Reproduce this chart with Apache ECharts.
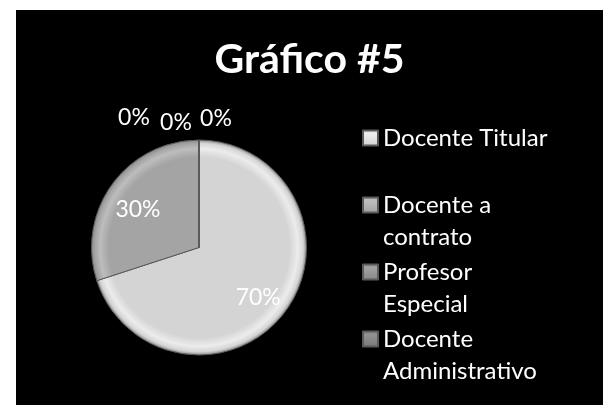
<!DOCTYPE html>
<html>
<head>
<meta charset="utf-8">
<script src="https://cdn.jsdelivr.net/npm/echarts@6/dist/echarts.min.js"></script>
<style>
  html, body { margin: 0; padding: 0; background: #fff; width: 607px; height: 405px; overflow: hidden; }
  #chart { position: absolute; left: 16px; top: 10px; width: 587px; height: 395px; }
</style>
</head>
<body>
<div id="chart"></div>
<script>
// Data
const categories = ['Docente Titular', 'Docente a contrato', 'Profesor Especial', 'Docente Administrativo', ''];
const values = [70, 30, 0, 0, 0];
const legendNames = ['Docente Titular', 'Docente a contrato', 'Profesor Especial', 'Docente Administrativo'];
const titleText = 'Gráfico #5';

// Styles
const CX = 183, CY = 237.5, R = 107.5;
const baseColors = ['#d4d4d4', '#a4a4a4', '#8a8a8a', '#7a7a7a', '#6c6c6c'];
const rimColors = ['#ececec', '#bdbdbd', '#a0a0a0', '#909090', '#808080'];
const zeroOffsets = [[-65, -129.5], [-23, -124.5], [17, -128.5]];
const insideScale = [[1.29, 1.5], [1.33, 1.13]];

function sliceGradient(i) {
  return {
    type: 'radial', x: CX, y: CY, r: R, global: true,
    colorStops: [
      { offset: 0, color: baseColors[i] },
      { offset: 0.84, color: baseColors[i] },
      { offset: 0.92, color: rimColors[i] },
      { offset: 0.97, color: baseColors[i] },
      { offset: 1, color: '#8a8a8a' }
    ]
  };
}

const chart = echarts.init(document.getElementById('chart'));
const option = {
  backgroundColor: '#000',
  animation: false,
  title: {
    text: titleText,
    left: 'center',
    top: 24,
    textStyle: { color: '#fff', fontFamily: 'Lato', fontWeight: 'bold', fontSize: 41 }
  },
  legend: {
    orient: 'vertical',
    left: 341,
    top: 106,
    padding: 5,
    itemGap: 0,
    itemWidth: 15,
    itemHeight: 65,
    icon: 'path://M0,0M15,65M0,8.5h15v15h-15z',
    data: legendNames.map(function (n) {
      const i = categories.indexOf(n);
      return {
        name: n,
        itemStyle: {
          color: {
            type: 'linear', x: 0, y: 0, x2: 0, y2: 1,
            colorStops: [
              { offset: 0, color: baseColors[i] },
              { offset: 0.2, color: rimColors[i] },
              { offset: 0.36, color: baseColors[i] },
              { offset: 1, color: baseColors[i] }
            ]
          }
        }
      };
    }),
    formatter: function (name) {
      if (name === 'Docente Titular') return name + '\n ';
      return name.replace(/ (\S+)$/, '\n$1');
    },
    textStyle: { color: '#fff', fontFamily: 'Lato', fontSize: 24, lineHeight: 32.5 }
  },
  series: [{
    type: 'pie',
    center: [CX, CY],
    radius: R,
    startAngle: 90,
    clockwise: true,
    avoidLabelOverlap: false,
    data: categories.map(function (c, i) {
      return { name: c, value: values[i], itemStyle: { color: sliceGradient(i) } };
    }),
    itemStyle: { borderColor: '#5a5a5a', borderWidth: 1 },
    label: {
      show: true,
      position: 'inside',
      formatter: '{d}%',
      color: '#fff',
      fontFamily: 'Lato',
      fontSize: 23
    },
    labelLine: { show: false },
    emphasis: { disabled: true },
    labelLayout: function (p) {
      const i = p.dataIndex;
      if (i >= 2) {
        const o = zeroOffsets[i - 2];
        return { x: CX + o[0], y: CY + o[1], align: 'center', verticalAlign: 'middle' };
      }
      const lr = p.labelRect;
      const lx = lr.x + lr.width / 2, ly = lr.y + lr.height / 2;
      const k = insideScale[i];
      return { x: CX + (lx - CX) * k[0], y: CY + (ly - CY) * k[1], align: 'center', verticalAlign: 'middle' };
    }
  }]
};
chart.setOption(option);
</script>
</body>
</html>
